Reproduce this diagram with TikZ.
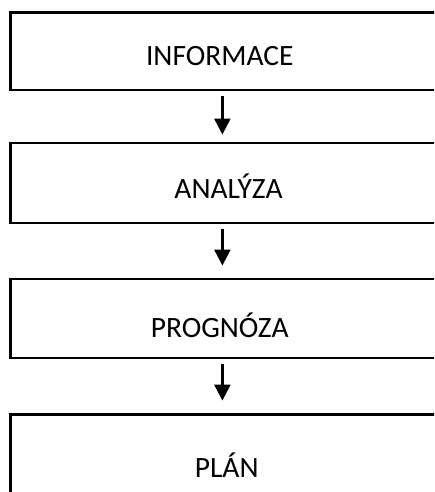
\documentclass[tikz,border=0pt]{standalone}
\usepackage{fontspec}
\setmainfont{Carlito}
\usetikzlibrary{arrows.meta}
\begin{document}
\begin{tikzpicture}[x=1pt,y=-1pt,
  box/.style={draw=black,line width=2.3pt,minimum width=427.5pt,inner sep=0pt,rectangle},
  lbl/.style={anchor=base,inner sep=0pt,font=\fontsize{29.5}{34}\selectfont},
  arr/.style={line width=2.4pt,-{Triangle[width=16pt,length=16pt]}}]
\useasboundingbox (0,0) rectangle (434,492);
\clip (0,0) rectangle (434,492);
\fill[white] (0,0) rectangle (434,492);
\node[box,minimum height=77.5pt] (b1) at (224.25,51.25) {};
\node[box,minimum height=80.3pt] (b2) at (224.25,183.15) {};
\node[box,minimum height=79.1pt] (b3) at (224.25,318.75) {};
\node[box,minimum height=80pt] (b4) at (224.25,454.5) {};
\node[lbl] (t1) at (219.8,66) {INFORMACE};
\node[lbl] (t2) at (228.5,198) {ANALÝZA};
\node[lbl] (t3) at (219.7,337) {PROGNÓZA};
\node[lbl] (t4) at (226.7,477) {PLÁN};
\draw[arr] ([shift={(-1.85,5)}]b1.south) -- ([shift={(-1.85,-7.3)}]b2.north);
\draw[arr] ([shift={(-1.85,4.4)}]b2.south) -- ([shift={(-1.85,-12.5)}]b3.north);
\draw[arr] ([shift={(-1.85,4.4)}]b3.south) -- ([shift={(-1.85,-12.8)}]b4.north);
\end{tikzpicture}
\end{document}
